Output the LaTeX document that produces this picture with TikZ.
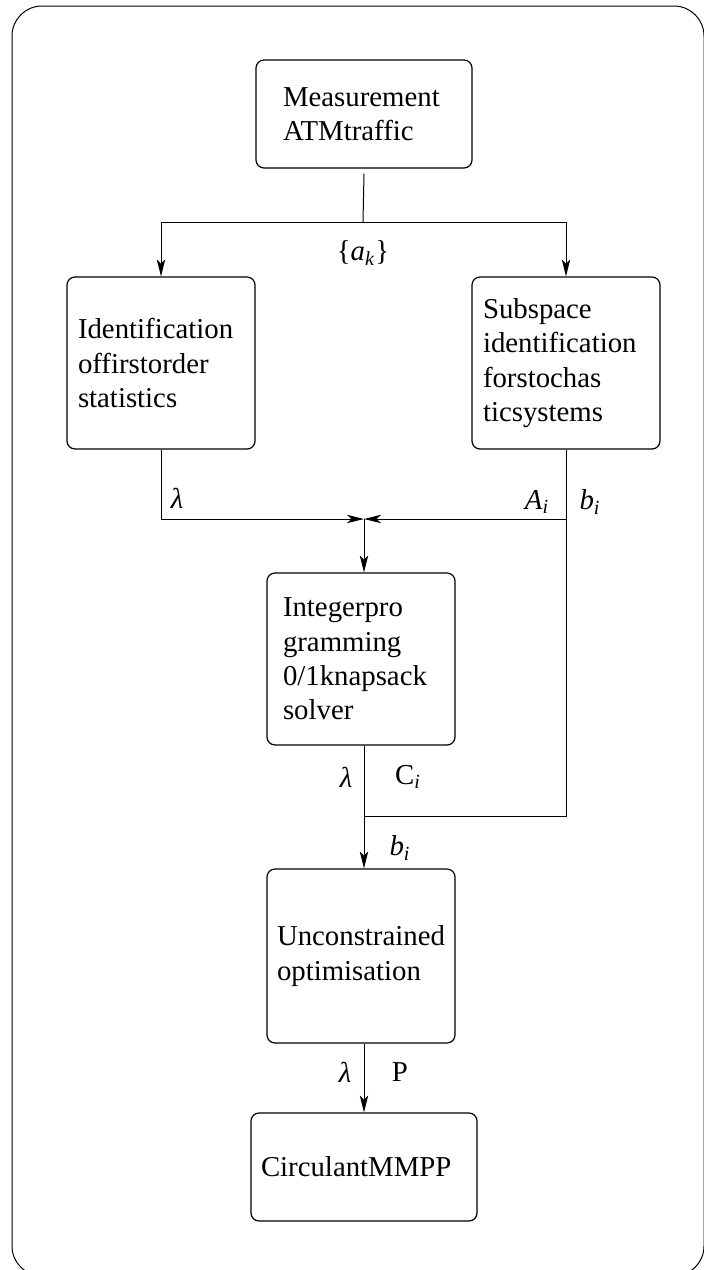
\documentclass[tikz,border=0pt]{standalone}
\usepackage{fontspec}
\setmainfont{Liberation Serif}
\usetikzlibrary{arrows.meta, calc, positioning}
\tikzset{>={Stealth[length=8.5pt,width=4.2pt,inset=2.2pt]}}
\tikzset{
  blk/.style={draw, rounded corners=4pt, align=left, inner xsep=5.5pt, line width=0.6pt},
  lbl/.style={inner sep=0pt},
}

\begin{document}
\begin{tikzpicture}[x=0.5pt, y=-0.5pt, line width=0.5pt, font=\fontsize{14.4}{17.2}\selectfont]
			\useasboundingbox (0,0) rectangle (703,1270);
			\draw[rounded corners=15pt] (12,6) rectangle (704,1276);
			% boxes
			\node[blk, text width=81pt, inner xsep=13.5pt, minimum height=54pt] (meas) at (364,114) {Measurement\\ATMtraffic};
			\node[blk, text width=83pt, minimum height=86pt] (ident) at (161,363) {Identification\\offirstorder\\statistics};
			\node[blk, text width=83pt, minimum height=86pt] (subsp) at (566,363) {Subspace\\identification\\forstochas\\ticsystems};
			\node[blk, text width=78pt, inner xsep=8pt, minimum height=86pt] (intprog) at (361,659) {Integerpro\\gramming\\0/1knapsack\\solver};
			\node[blk, text width=84pt, inner xsep=5pt, minimum height=87pt] (unconst) at (361,956) {Unconstrained\\optimisation};
			\node[blk, text width=103pt, inner xsep=5pt, minimum height=54pt] (circ) at (364,1167) {CirculantMMPP};
			\coordinate (split) at (363,222);
			\coordinate (join) at (364,519);
			\coordinate (merge) at (364,816);
			% connectors
			\draw ([yshift=-2.5pt]meas.south) -- (split);
			\draw[->] (split) -| (ident.north);
			\draw[->] (split) -| (subsp.north);
			\draw[->] (ident.south) |- (join);
			\draw[->] (subsp.south) |- (join);
			\draw (subsp.south) |- (merge);
			\draw[->] (join) -- (join |- intprog.north);
			\draw[->] (join |- intprog.south) -- (join |- unconst.north);
			\draw[->] (join |- unconst.south) -- (join |- circ.north);
			% labels
			\node[lbl] (ak) at (363,253) {\{\textit{a}\textsubscript{\textit{k}}\}};
			\node[lbl] (lam1) at (177,498) {\textit{λ}};
			\node[lbl] (Ai) at (537,502) {\textit{A}\textsubscript{\textit{i}}};
			\node[lbl] (bi1) at (590,502) {\textit{b}\textsubscript{\textit{i}}};
			\node[lbl] (lam2) at (346,777) {\textit{λ}};
			\node[lbl] (Ci) at (408,777) {C\textsubscript{\textit{i}}};
			\node[lbl] (bi2) at (400,848) {\textit{b}\textsubscript{\textit{i}}};
			\node[lbl] (lam3) at (345,1072) {\textit{λ}};
			\node[lbl] (P) at (400,1072) {P};
\end{tikzpicture}
\end{document}
